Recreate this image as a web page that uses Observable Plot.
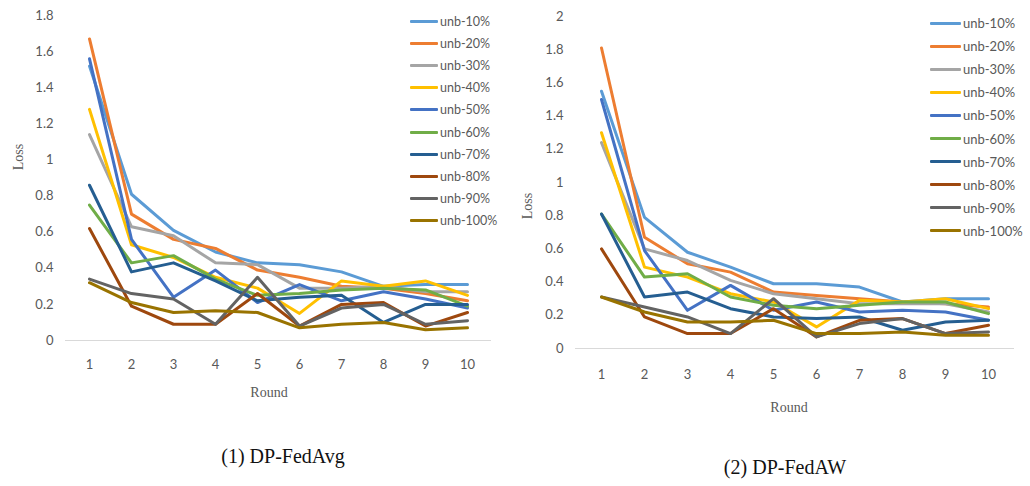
<!DOCTYPE html>
<html>
<head>
<meta charset="utf-8">
<script src="https://cdn.jsdelivr.net/npm/d3@7"></script>
<script src="https://cdn.jsdelivr.net/npm/@observablehq/plot@0.6"></script>
<style>
  html, body { margin: 0; padding: 0; background: #fff; }
  #page { position: relative; width: 1030px; height: 486px; overflow: hidden; background: #fff; }
  .panel { position: absolute; top: 0; }
  .axlabel { position: absolute; font-family: "Liberation Serif", serif; color: #595959; white-space: nowrap; }
  .caption { position: absolute; font-family: "Liberation Serif", serif; color: #111; font-size: 20px; white-space: nowrap; transform: translate(-50%, -50%); }
  .legend-item { position: absolute; display: flex; align-items: center; font-family: Lato, sans-serif; color: #595959; white-space: nowrap; }
  .legend-item .swatch { display: inline-block; height: 3px; border-radius: 1px; margin-right: 2px; }
</style>
</head>
<body>
<div id="page"></div>
<script>
// ---------- data ----------
const rounds = [1, 2, 3, 4, 5, 6, 7, 8, 9, 10];
const seriesNames = ["unb-10%", "unb-20%", "unb-30%", "unb-40%", "unb-50%", "unb-60%", "unb-70%", "unb-80%", "unb-90%", "unb-100%"];
const seriesColors = ["#5B9BD5", "#ED7D31", "#A5A5A5", "#FFC000", "#4472C4", "#70AD47", "#255E91", "#9E480E", "#636363", "#997300"];

// (1) DP-FedAvg, one row per series, one value per round
const fedAvgLoss = [
  [1.52, 0.81, 0.61, 0.49, 0.43, 0.42, 0.38, 0.30, 0.31, 0.31],
  [1.67, 0.70, 0.56, 0.51, 0.39, 0.35, 0.30, 0.29, 0.26, 0.22],
  [1.14, 0.63, 0.58, 0.43, 0.42, 0.29, 0.29, 0.30, 0.27, 0.27],
  [1.28, 0.53, 0.46, 0.35, 0.29, 0.15, 0.33, 0.30, 0.33, 0.25],
  [1.56, 0.56, 0.24, 0.39, 0.21, 0.31, 0.22, 0.27, 0.23, 0.18],
  [0.75, 0.43, 0.47, 0.34, 0.25, 0.26, 0.28, 0.29, 0.28, 0.19],
  [0.86, 0.38, 0.43, 0.33, 0.22, 0.24, 0.25, 0.10, 0.20, 0.20],
  [0.62, 0.19, 0.09, 0.09, 0.26, 0.08, 0.20, 0.21, 0.08, 0.155],
  [0.34, 0.26, 0.23, 0.09, 0.35, 0.08, 0.18, 0.20, 0.09, 0.11],
  [0.32, 0.21, 0.155, 0.165, 0.155, 0.07, 0.09, 0.10, 0.06, 0.07]
];

// (2) DP-FedAW
const fedAWLoss = [
  [1.55, 0.79, 0.58, 0.49, 0.39, 0.39, 0.37, 0.28, 0.30, 0.30],
  [1.81, 0.67, 0.51, 0.46, 0.34, 0.32, 0.30, 0.28, 0.27, 0.25],
  [1.24, 0.60, 0.53, 0.41, 0.33, 0.30, 0.27, 0.27, 0.27, 0.22],
  [1.30, 0.49, 0.43, 0.33, 0.28, 0.13, 0.29, 0.28, 0.30, 0.24],
  [1.50, 0.59, 0.23, 0.38, 0.23, 0.28, 0.22, 0.23, 0.22, 0.17],
  [0.81, 0.43, 0.45, 0.31, 0.26, 0.24, 0.26, 0.28, 0.28, 0.21],
  [0.81, 0.31, 0.34, 0.24, 0.19, 0.18, 0.19, 0.11, 0.16, 0.17],
  [0.60, 0.19, 0.09, 0.09, 0.24, 0.07, 0.17, 0.18, 0.09, 0.14],
  [0.31, 0.25, 0.19, 0.09, 0.30, 0.07, 0.15, 0.18, 0.09, 0.10],
  [0.31, 0.22, 0.16, 0.16, 0.17, 0.09, 0.09, 0.10, 0.08, 0.08]
];

const fedAvgYTicks = [0, 0.2, 0.4, 0.6, 0.8, 1, 1.2, 1.4, 1.6, 1.8];
const fedAWYTicks = [0, 0.2, 0.4, 0.6, 0.8, 1, 1.2, 1.4, 1.6, 1.8, 2];
const xLabel = "Round";
const yLabel = "Loss";
const captions = ["(1) DP-FedAvg", "(2) DP-FedAW"];

// ---------- drawing ----------
const page = document.getElementById("page");

function tidy(matrix) {
  return matrix.flatMap((row, i) => row.map((v, j) => ({series: seriesNames[i], round: rounds[j], loss: v})));
}

function makeChart(o) {
  return Plot.plot({
    width: o.width,
    height: o.height,
    marginLeft: o.marginLeft,
    marginRight: o.marginRight,
    marginTop: o.marginTop,
    marginBottom: o.marginBottom,
    style: {fontFamily: "Lato, sans-serif", fontSize: "13px", color: "#595959", background: "transparent", overflow: "visible"},
    x: {type: "point", domain: rounds, padding: 0.5, tickSize: 0, tickPadding: o.xTickPadding, label: null},
    y: {domain: [0, o.ticks[o.ticks.length - 1]], ticks: o.ticks, tickSize: 0, tickPadding: 12, tickFormat: d => String(d), label: null},
    color: {domain: seriesNames, range: seriesColors},
    marks: [
      Plot.ruleY([0], {stroke: "#d9d9d9", strokeWidth: 1}),
      Plot.line(tidy(o.loss), {x: "round", y: "loss", stroke: "series", z: "series", strokeWidth: 3, strokeLinejoin: "round", strokeLinecap: "round"})
    ]
  });
}

function addPanel(o) {
  const wrap = document.createElement("div");
  wrap.className = "panel";
  wrap.style.left = o.left + "px";
  wrap.appendChild(makeChart(o));
  page.appendChild(wrap);

  const yl = document.createElement("div");
  yl.className = "axlabel";
  yl.textContent = yLabel;
  yl.style.fontSize = "14px";
  yl.style.left = o.yLabelX + "px";
  yl.style.top = o.yLabelY + "px";
  yl.style.transform = "translate(-50%, -50%) rotate(-90deg)";
  page.appendChild(yl);

  const xl = document.createElement("div");
  xl.className = "axlabel";
  xl.textContent = xLabel;
  xl.style.fontSize = "14px";
  xl.style.left = o.xLabelX + "px";
  xl.style.top = o.xLabelY + "px";
  xl.style.transform = "translate(-50%, -50%)";
  page.appendChild(xl);

  seriesNames.forEach((name, i) => {
    const item = document.createElement("div");
    item.className = "legend-item";
    item.style.left = o.legendX + "px";
    item.style.top = (o.legendY + i * o.legendStep - 8) + "px";
    item.style.height = "16px";
    item.style.fontSize = o.legendFont + "px";
    const sw = document.createElement("span");
    sw.className = "swatch";
    sw.style.width = o.legendLine + "px";
    sw.style.background = seriesColors[i];
    item.appendChild(sw);
    item.appendChild(document.createTextNode(name));
    page.appendChild(item);
  });

  const cap = document.createElement("div");
  cap.className = "caption";
  cap.textContent = o.caption;
  cap.style.left = o.capX + "px";
  cap.style.top = o.capY + "px";
  page.appendChild(cap);
}

addPanel({
  left: 0, width: 510, height: 410,
  marginLeft: 65, marginRight: 19, marginTop: 15, marginBottom: 70,
  xTickPadding: 19,
  loss: fedAvgLoss, ticks: fedAvgYTicks,
  yLabelX: 19, yLabelY: 157, xLabelX: 269, xLabelY: 393,
  legendX: 410, legendY: 21, legendStep: 22.2, legendFont: 12.5, legendLine: 28,
  caption: captions[0], capX: 283, capY: 456
});

addPanel({
  left: 510, width: 520, height: 420,
  marginLeft: 65, marginRight: 16, marginTop: 16, marginBottom: 72,
  xTickPadding: 21,
  loss: fedAWLoss, ticks: fedAWYTicks,
  yLabelX: 528, yLabelY: 206, xLabelX: 789, xLabelY: 408,
  legendX: 930, legendY: 23, legendStep: 23.1, legendFont: 13, legendLine: 31,
  caption: captions[1], capX: 785, capY: 467
});
</script>
</body>
</html>
